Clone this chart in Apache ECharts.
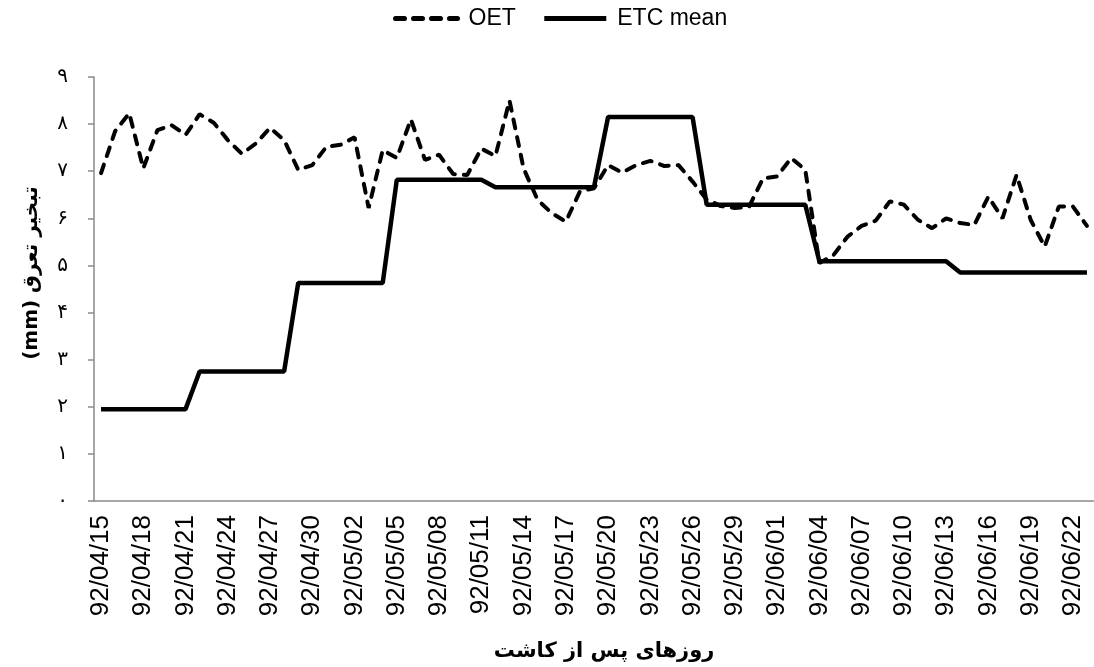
<!DOCTYPE html>
<html>
<head>
<meta charset="utf-8">
<script src="https://cdn.jsdelivr.net/npm/echarts@6/dist/echarts.min.js"></script>
<style>
  html, body { margin: 0; padding: 0; background: #fff; }
  #chart { width: 1094px; height: 667px; }
</style>
</head>
<body>
<div id="chart"></div>
<script>
// روزها (تاریخ شمسی)
const days = [
  '92/04/15', '92/04/16', '92/04/17', '92/04/18', '92/04/19', '92/04/20', '92/04/21', '92/04/22', '92/04/23',
  '92/04/24', '92/04/25', '92/04/26', '92/04/27', '92/04/28', '92/04/29', '92/04/30', '92/04/31',
  '92/05/01', '92/05/02', '92/05/03', '92/05/04', '92/05/05', '92/05/06', '92/05/07', '92/05/08',
  '92/05/09', '92/05/10', '92/05/11', '92/05/12', '92/05/13', '92/05/14', '92/05/15', '92/05/16',
  '92/05/17', '92/05/18', '92/05/19', '92/05/20', '92/05/21', '92/05/22', '92/05/23', '92/05/24',
  '92/05/25', '92/05/26', '92/05/27', '92/05/28', '92/05/29', '92/05/30', '92/05/31',
  '92/06/01', '92/06/02', '92/06/03', '92/06/04', '92/06/05', '92/06/06', '92/06/07', '92/06/08',
  '92/06/09', '92/06/10', '92/06/11', '92/06/12', '92/06/13', '92/06/14', '92/06/15', '92/06/16',
  '92/06/17', '92/06/18', '92/06/19', '92/06/20', '92/06/21', '92/06/22', '92/06/23'
]

// OET (mm)
const oet = [
  6.96, 7.85, 8.23, 7.06, 7.87, 7.98, 7.77, 8.21, 8.03, 7.66,
  7.37, 7.59, 7.92, 7.66, 7.03, 7.13, 7.52, 7.56, 7.72, 6.22,
  7.45, 7.28, 8.10, 7.24, 7.35, 6.94, 6.92, 7.48, 7.32, 8.50,
  7.06, 6.39, 6.11, 5.93, 6.57, 6.64, 7.13, 6.97, 7.13, 7.22,
  7.11, 7.13, 6.78, 6.40, 6.26, 6.22, 6.24, 6.85, 6.89, 7.28,
  7.03, 5.05, 5.22, 5.61, 5.84, 5.95, 6.36, 6.29, 5.97, 5.79,
  6.00, 5.90, 5.86, 6.46, 6.00, 6.92, 5.97, 5.40, 6.25, 6.25,
  5.84
]

// ETC mean (mm)
const etcMean = [
  1.95, 1.95, 1.95, 1.95, 1.95, 1.95, 1.95,
  2.75, 2.75, 2.75, 2.75, 2.75, 2.75, 2.75,
  4.63, 4.63, 4.63, 4.63, 4.63, 4.63, 4.63,
  6.82, 6.82, 6.82, 6.82, 6.82, 6.82, 6.82,
  6.66, 6.66, 6.66, 6.66, 6.66, 6.66, 6.66, 6.66,
  8.15, 8.15, 8.15, 8.15, 8.15, 8.15, 8.15,
  6.29, 6.29, 6.29, 6.29, 6.29, 6.29, 6.29, 6.29,
  5.09, 5.09, 5.09, 5.09, 5.09, 5.09, 5.09, 5.09, 5.09, 5.09,
  4.85, 4.85, 4.85, 4.85, 4.85, 4.85, 4.85, 4.85, 4.85, 4.85
]

// برچسب‌های محور عمودی
const yTickLabels = ['۰', '۱', '۲', '۳', '۴', '۵', '۶', '۷', '۸', '۹']

const chart = echarts.init(document.getElementById('chart'))
chart.setOption({
  animation: false,
  backgroundColor: '#fff',
  legend: {
    data: ['OET', 'ETC mean'],
    top: 2,
    left: 388,
    itemWidth: 62,
    itemHeight: 14,
    itemGap: 26,
    itemStyle: { opacity: 0 },
    lineStyle: { width: 5 },
    textStyle: {
      color: '#000',
      fontSize: 23,
      fontFamily: "'Liberation Sans Narrow', 'Liberation Sans', sans-serif",
      padding: [0, 0, 0, 6]
    }
  },
  grid: {
    left: 94,
    right: -9,
    top: 77,
    bottom: 166
  },
  xAxis: {
    type: 'category',
    data: days,
    boundaryGap: true,
    axisLine: { lineStyle: { color: '#8a8a8a', width: 1.5 } },
    axisTick: { show: false },
    axisLabel: {
      interval: 2,
      rotate: 90,
      margin: 14,
      color: '#000',
      fontSize: 26,
      fontFamily: "'Liberation Sans', Arial, sans-serif"
    },
    name: 'روزهای پس از کاشت',
    nameLocation: 'middle',
    nameGap: 140,
    nameTextStyle: {
      color: '#000',
      fontSize: 21,
      fontWeight: 'bold',
      fontFamily: "'DejaVu Sans', sans-serif",
      padding: [0, 0, 0, 20]
    }
  },
  yAxis: {
    type: 'value',
    min: 0,
    max: 9,
    interval: 1,
    axisLine: { show: true, lineStyle: { color: '#8a8a8a', width: 1.5 } },
    axisTick: { show: true, length: 6, lineStyle: { color: '#8a8a8a', width: 1.5 } },
    splitLine: { show: false },
    axisLabel: {
      margin: 26,
      color: '#000',
      fontSize: 20,
      fontFamily: "'DejaVu Sans', sans-serif",
      formatter: function (v) { return yTickLabels[v] }
    },
    name: '(mm) تبخیر تعرق',
    nameLocation: 'middle',
    nameRotate: 90,
    nameGap: 52,
    nameTextStyle: {
      color: '#000',
      fontSize: 20,
      fontWeight: 'bold',
      fontFamily: "'DejaVu Sans', sans-serif",
      padding: [0, 0, 0, 32]
    }
  },
  series: [
    {
      name: 'ETC mean',
      type: 'line',
      data: etcMean,
      symbol: 'none',
      color: '#000',
      lineStyle: { color: '#000', width: 4.5 }
    },
    {
      name: 'OET',
      type: 'line',
      data: oet,
      symbol: 'none',
      color: '#000',
      lineStyle: { color: '#000', width: 4, type: [9, 9], cap: 'round' }
    }
  ]
})
</script>
</body>
</html>
